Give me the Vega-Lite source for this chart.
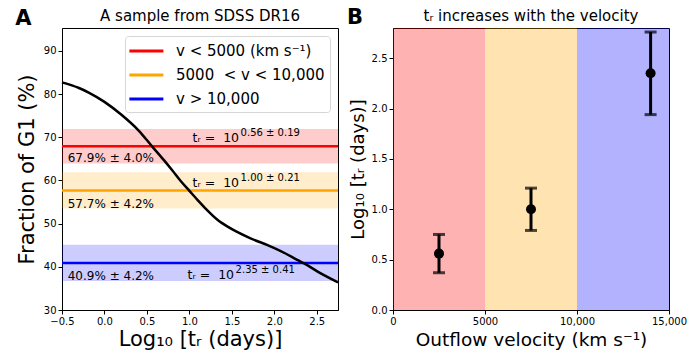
{
  "$schema": "https://vega.github.io/schema/vega-lite/v6.json",
  "padding": {"left": 14, "top": 6, "right": 5, "bottom": 5},
  "background": "white",
  "config": {
    "font": "DejaVu Sans",
    "view": {"stroke": "black", "strokeWidth": 1},
    "axis": {
      "grid": false, "domainColor": "black", "tickColor": "black",
      "labelColor": "black", "titleColor": "black",
      "labelFont": "DejaVu Sans", "titleFont": "DejaVu Sans",
      "labelFontSize": 10, "tickSize": 4, "labelPadding": 2,
      "titleFontWeight": "normal", "labelFlush": false, "labelOverlap": false
    }
  },
  "bounds": "flush",
  "spacing": 55,
  "resolve": {"scale": {"color": "independent"}, "legend": {"color": "independent"}},
  "hconcat": [
    {
      "width": 276,
      "height": 282,
      "resolve": {"scale": {"color": "independent"}},
      "layer": [
        {
          "data": {"values": [
            {"group": "v < 5000 (km s⁻¹)", "frac": 67.9, "lo": 63.9, "hi": 71.9},
            {"group": "5000 \u00a0< v < 10,000", "frac": 57.7, "lo": 53.5, "hi": 61.9},
            {"group": "v > 10,000", "frac": 40.9, "lo": 36.7, "hi": 45.1}
          ]},
          "mark": {"type": "rect", "opacity": 0.2},
          "encoding": {
            "y": {"field": "lo", "type": "quantitative",
              "scale": {"domain": [30, 95.3], "nice": false, "zero": false},
              "axis": {"title": "Fraction of G1 (%)", "values": [30, 40, 50, 60, 70, 80, 90], "titleFontSize": 21, "titlePadding": 6}},
            "y2": {"field": "hi"},
            "color": {"field": "group", "type": "nominal",
              "scale": {"domain": ["v < 5000 (km s⁻¹)", "5000 \u00a0< v < 10,000", "v > 10,000"], "range": ["#ff0000", "#ffa500", "#0000ff"]},
              "legend": null}
          }
        },
        {
          "data": {"values": [
            {"group": "v < 5000 (km s⁻¹)", "frac": 67.9},
            {"group": "5000 \u00a0< v < 10,000", "frac": 57.7},
            {"group": "v > 10,000", "frac": 40.9}
          ]},
          "mark": {"type": "rule", "strokeWidth": 2.5},
          "encoding": {
            "y": {"field": "frac", "type": "quantitative"},
            "color": {"field": "group", "type": "nominal",
              "scale": {"domain": ["v < 5000 (km s⁻¹)", "5000 \u00a0< v < 10,000", "v > 10,000"], "range": ["#ff0000", "#ffa500", "#0000ff"]},
              "legend": {"title": null, "orient": "top-right", "offset": 8, "symbolType": "M-1.25,0H2.75",
                "symbolStrokeWidth": 3, "symbolSize": 289, "symbolOpacity": 1,
                "labelFontSize": 15, "labelFont": "DejaVu Sans", "labelColor": "black", "labelLimit": 400,
                "fillColor": "rgba(255,255,255,0.8)", "strokeColor": "#d6d6d6", "cornerRadius": 3,
                "padding": 5, "rowPadding": 6, "labelOffset": 26}}
          }
        },
        {
          "data": {"values": [
            {"logt": -0.5, "frac": 82.7}, {"logt": -0.3, "frac": 81.4}, {"logt": -0.18, "frac": 80.3},
            {"logt": 0.0, "frac": 78.2}, {"logt": 0.2, "frac": 75.2}, {"logt": 0.4, "frac": 71.6},
            {"logt": 0.56, "frac": 67.9}, {"logt": 0.7, "frac": 64.7}, {"logt": 0.8, "frac": 62.3},
            {"logt": 0.9, "frac": 59.8}, {"logt": 1.0, "frac": 57.6}, {"logt": 1.1, "frac": 55.4},
            {"logt": 1.2, "frac": 53.3}, {"logt": 1.33, "frac": 50.9}, {"logt": 1.45, "frac": 49.3},
            {"logt": 1.55, "frac": 48.2}, {"logt": 1.72, "frac": 46.6}, {"logt": 1.92, "frac": 45.0},
            {"logt": 2.12, "frac": 43.2}, {"logt": 2.27, "frac": 41.6}, {"logt": 2.35, "frac": 40.8},
            {"logt": 2.51, "frac": 38.9}, {"logt": 2.75, "frac": 36.4}
          ]},
          "mark": {"type": "line", "color": "black", "strokeWidth": 2.5, "interpolate": "monotone"},
          "encoding": {
            "x": {"field": "logt", "type": "quantitative",
              "scale": {"domain": [-0.5, 2.75], "nice": false, "zero": false},
              "axis": {"title": "Log₁₀ [tᵣ (days)]", "values": [-0.5, 0, 0.5, 1, 1.5, 2, 2.5], "format": ".1f", "titleFontSize": 21, "titlePadding": 2}},
            "y": {"field": "frac", "type": "quantitative"}
          }
        },
        {
          "data": {"values": [
            {"label": "67.9% ± 4.0%", "x": -0.433, "y": 64.26},
            {"label": "57.7% ± 4.2%", "x": -0.433, "y": 53.7},
            {"label": "40.9% ± 4.2%", "x": -0.433, "y": 36.9}
          ]},
          "mark": {"type": "text", "align": "left", "baseline": "alphabetic", "fontSize": 12, "color": "black"},
          "encoding": {
            "x": {"field": "x", "type": "quantitative"},
            "y": {"field": "y", "type": "quantitative"},
            "text": {"field": "label"}
          }
        },
        {
          "data": {"values": [
            {"base": "tᵣ = \u00a010", "exp": "0.56 ± 0.19", "x": 1.038, "y": 68.8},
            {"base": "tᵣ = \u00a010", "exp": "1.00 ± 0.21", "x": 1.038, "y": 58.4},
            {"base": "tᵣ = \u00a010", "exp": "2.35 ± 0.41", "x": 0.979, "y": 37.1}
          ]},
          "layer": [
            {
              "mark": {"type": "text", "align": "left", "baseline": "alphabetic", "fontSize": 12.5, "color": "black"},
              "encoding": {
                "x": {"field": "x", "type": "quantitative"},
                "y": {"field": "y", "type": "quantitative"},
                "text": {"field": "base"}
              }
            },
            {
              "mark": {"type": "text", "align": "left", "baseline": "alphabetic", "fontSize": 10, "color": "black", "dx": 48, "dy": -6},
              "encoding": {
                "x": {"field": "x", "type": "quantitative"},
                "y": {"field": "y", "type": "quantitative"},
                "text": {"field": "exp"}
              }
            }
          ]
        },
        {
          "data": {"values": [
            {"label": "A", "x": -0.955, "y": 96.0}
          ]},
          "mark": {"type": "text", "align": "center", "baseline": "alphabetic", "fontSize": 21, "fontWeight": "bold", "color": "black"},
          "encoding": {
            "x": {"field": "x", "type": "quantitative"},
            "y": {"field": "y", "type": "quantitative"},
            "text": {"field": "label"}
          }
        },
        {
          "data": {"values": [
            {"label": "A sample from SDSS DR16", "x": 1.125, "y": 96.92}
          ]},
          "mark": {"type": "text", "align": "center", "baseline": "alphabetic", "fontSize": 15, "color": "black"},
          "encoding": {
            "x": {"field": "x", "type": "quantitative"},
            "y": {"field": "y", "type": "quantitative"},
            "text": {"field": "label"}
          }
        }
      ]
    },
    {
      "width": 276,
      "height": 282,
      "layer": [
        {
          "data": {"values": [
            {"group": "v < 5000 (km s⁻¹)", "vmin": 0, "vmax": 5000},
            {"group": "5000 \u00a0< v < 10,000", "vmin": 5000, "vmax": 10000},
            {"group": "v > 10,000", "vmin": 10000, "vmax": 15000}
          ]},
          "mark": {"type": "rect", "opacity": 0.3},
          "encoding": {
            "x": {"field": "vmin", "type": "quantitative",
              "scale": {"domain": [0, 15000], "nice": false},
              "axis": {"title": "Outflow velocity (km s⁻¹)", "values": [0, 5000, 10000, 15000],
                "labelExpr": "datum.value >= 10000 ? format(datum.value, ',') : format(datum.value, 'd')",
                "titleFontSize": 18.5, "titlePadding": 4}},
            "x2": {"field": "vmax"},
            "color": {"field": "group", "type": "nominal",
              "scale": {"domain": ["v < 5000 (km s⁻¹)", "5000 \u00a0< v < 10,000", "v > 10,000"], "range": ["#ff0000", "#ffa500", "#0000ff"]},
              "legend": null}
          }
        },
        {
          "data": {"values": [
            {"velocity": 2500, "logt": 0.56, "err": 0.19},
            {"velocity": 7500, "logt": 1.00, "err": 0.21},
            {"velocity": 14000, "logt": 2.35, "err": 0.41}
          ]},
          "layer": [
            {
              "mark": {"type": "errorbar", "ticks": {"size": 12, "thickness": 3, "color": "black"}, "rule": {"strokeWidth": 3, "color": "black"}, "color": "black"},
              "encoding": {
                "x": {"field": "velocity", "type": "quantitative"},
                "y": {"field": "logt", "type": "quantitative",
                  "scale": {"domain": [0, 2.8], "nice": false},
                  "axis": {"title": "Log₁₀ [tᵣ (days)]", "values": [0, 0.5, 1, 1.5, 2, 2.5], "format": ".1f", "titleFontSize": 18, "titlePadding": 4}},
                "yError": {"field": "err"}
              }
            },
            {
              "mark": {"type": "point", "filled": true, "size": 100, "color": "black", "opacity": 1},
              "encoding": {
                "x": {"field": "velocity", "type": "quantitative"},
                "y": {"field": "logt", "type": "quantitative"}
              }
            }
          ]
        },
        {
          "data": {"values": [
            {"label": "B", "x": -2065, "y": 2.84}
          ]},
          "mark": {"type": "text", "align": "center", "baseline": "alphabetic", "fontSize": 21, "fontWeight": "bold", "color": "black"},
          "encoding": {
            "x": {"field": "x", "type": "quantitative"},
            "y": {"field": "y", "type": "quantitative"},
            "text": {"field": "label"}
          }
        },
        {
          "data": {"values": [
            {"label": "tᵣ increases with the velocity", "x": 7500, "y": 2.87}
          ]},
          "mark": {"type": "text", "align": "center", "baseline": "alphabetic", "fontSize": 15, "color": "black"},
          "encoding": {
            "x": {"field": "x", "type": "quantitative"},
            "y": {"field": "y", "type": "quantitative"},
            "text": {"field": "label"}
          }
        }
      ]
    }
  ]
}
